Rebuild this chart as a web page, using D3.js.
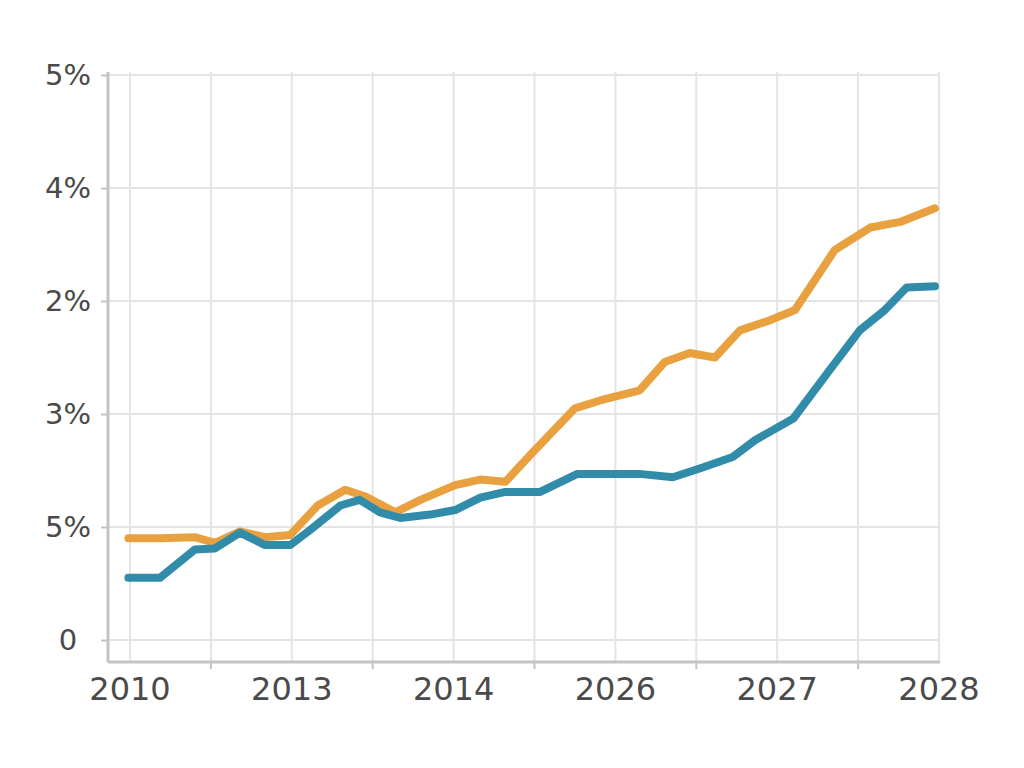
<!DOCTYPE html>
<html>
<head>
<meta charset="utf-8">
<script src="https://cdn.jsdelivr.net/npm/d3@7"></script>
<style>
  body { margin: 0; background: #fff; }
  text { font-family: "DejaVu Sans", sans-serif; }
</style>
</head>
<body>
<svg id="chart"></svg>
<script>
// set svg params

var svgWidth = 1024, svgHeight = 768;

// data: x position in grid periods, values in axis units

var xLabels = ["2010", "2013", "2014", "2026", "2027", "2028"];
var xLabelPos = [0, 2, 4, 6, 8, 10];
var yTickValues = [0, 1, 2, 3, 4, 5];
var yTickLabels = ["0", "5%", "3%", "2%", "4%", "5%"];

var orangeX = [-0.02, 0.37, 0.80, 1.05, 1.36, 1.67, 1.98, 2.32, 2.66, 2.91, 3.28, 3.59, 4.02, 4.33, 4.64, 4.95, 5.50, 5.81, 6.30, 6.61, 6.92, 7.23, 7.54, 7.91, 8.22, 8.71, 9.15, 9.52, 9.95];
var orangeY = [0.90, 0.90, 0.91, 0.86, 0.96, 0.91, 0.93, 1.19, 1.33, 1.27, 1.13, 1.24, 1.37, 1.42, 1.40, 1.64, 2.05, 2.12, 2.21, 2.46, 2.54, 2.50, 2.74, 2.83, 2.92, 3.45, 3.65, 3.70, 3.82];

var blueX = [-0.02, 0.37, 0.80, 1.05, 1.36, 1.67, 1.98, 2.22, 2.60, 2.84, 3.09, 3.34, 3.71, 4.02, 4.33, 4.64, 5.07, 5.53, 6.30, 6.71, 7.05, 7.45, 7.73, 8.20, 8.65, 9.02, 9.33, 9.60, 9.95];
var blueY = [0.55, 0.55, 0.80, 0.81, 0.95, 0.84, 0.84, 0.97, 1.19, 1.24, 1.13, 1.08, 1.11, 1.15, 1.26, 1.31, 1.31, 1.47, 1.47, 1.44, 1.52, 1.62, 1.77, 1.96, 2.39, 2.74, 2.92, 3.12, 3.13];

var colors = ["#e9a140", "#318ca9"];

// scales

var xScale = d3.scaleLinear()
  .domain([0, 10])
  .range([130, 939]);

var yScale = d3.scaleLinear()
  .domain([0, 5])
  .range([640, 75]);

var axisX = 108, plotRight = 940;
var plotTop = 72, plotBottom = 662;

var svg = d3.select("#chart")
  .attr("width", svgWidth)
  .attr("height", svgHeight);

// grid

svg.append("g")
  .selectAll("line")
  .data(d3.range(0, 11))
  .enter()
  .append("line")
  .attr("x1", function (d) { return xScale(d); })
  .attr("x2", function (d) { return xScale(d); })
  .attr("y1", plotTop)
  .attr("y2", plotBottom)
  .attr("stroke", "#e4e4e4")
  .attr("stroke-width", 2);

svg.append("g")
  .selectAll("line")
  .data(yTickValues)
  .enter()
  .append("line")
  .attr("x1", axisX)
  .attr("x2", plotRight)
  .attr("y1", function (d) { return yScale(d); })
  .attr("y2", function (d) { return yScale(d); })
  .attr("stroke", "#e4e4e4")
  .attr("stroke-width", 2);

// axes

var yAxis = d3.axisLeft(yScale)
  .tickValues(yTickValues)
  .tickSize(7)
  .tickFormat(function (d, i) { return yTickLabels[i]; });

var gy = svg.append("g")
  .attr("transform", "translate(" + axisX + ",0)")
  .call(yAxis);
gy.select(".domain").remove();
gy.selectAll("line").attr("stroke", "#c4c4c4").attr("stroke-width", 2);
gy.selectAll("text")
  .attr("x", -40)
  .attr("text-anchor", "middle")
  .attr("font-size", 29)
  .attr("fill", "#4a4a4a");

svg.append("line")
  .attr("x1", axisX).attr("x2", axisX)
  .attr("y1", plotTop).attr("y2", plotBottom)
  .attr("stroke", "#c4c4c4").attr("stroke-width", 3);

svg.append("line")
  .attr("x1", axisX).attr("x2", plotRight)
  .attr("y1", plotBottom).attr("y2", plotBottom)
  .attr("stroke", "#c4c4c4").attr("stroke-width", 3);

svg.append("g")
  .selectAll("line")
  .data([1, 3, 5, 7, 9])
  .enter()
  .append("line")
  .attr("x1", function (d) { return xScale(d); })
  .attr("x2", function (d) { return xScale(d); })
  .attr("y1", plotBottom)
  .attr("y2", plotBottom + 7)
  .attr("stroke", "#c4c4c4")
  .attr("stroke-width", 2);

svg.append("g")
  .selectAll("text")
  .data(xLabels)
  .enter()
  .append("text")
  .attr("x", function (d, i) { return xScale(xLabelPos[i]); })
  .attr("y", 700)
  .attr("text-anchor", "middle")
  .attr("font-size", 32)
  .attr("fill", "#4a4a4a")
  .text(function (d) { return d; });

// lines

var line = d3.line()
  .x(function (d) { return xScale(d[0]); })
  .y(function (d) { return yScale(d[1]); });

var series = [
  d3.zip(orangeX, orangeY),
  d3.zip(blueX, blueY)
];

svg.append("g")
  .selectAll("path")
  .data(series)
  .enter()
  .append("path")
  .attr("d", line)
  .attr("fill", "none")
  .attr("stroke", function (d, i) { return colors[i]; })
  .attr("stroke-width", 8)
  .attr("stroke-linejoin", "round")
  .attr("stroke-linecap", "round");
</script>
</body>
</html>
